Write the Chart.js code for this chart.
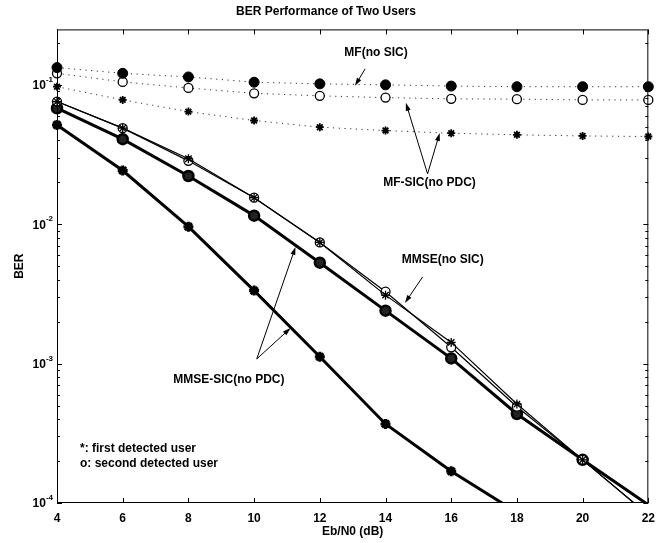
<!DOCTYPE html>
<html>
<head>
<meta charset="utf-8">
<script src="https://cdn.jsdelivr.net/npm/chart.js@4.4.0/dist/chart.umd.min.js"></script>
<style>
    html, body { margin: 0; padding: 0; background: #fff; }
    #wrap { width: 663px; height: 543px; }
</style>
</head>
<body>
<div id="wrap"><canvas id="berChart"></canvas></div>
<script>
"use strict";

// Eb/N0 in dB
const ebN0 = [4, 6, 8, 10, 12, 14, 16, 18, 20, 22];

// matched filter, no SIC (both users overlap -> filled dots)
const mfNoSic = [0.133, 0.121, 0.114, 0.1045, 0.1017, 0.100, 0.098, 0.097, 0.097, 0.097];
// MF-SIC (no PDC)
const mfSicSecond = [0.121, 0.105, 0.095, 0.087, 0.0834, 0.081, 0.0794, 0.079, 0.078, 0.078];
const mfSicFirst = [0.097, 0.078, 0.0643, 0.0555, 0.0497, 0.047, 0.045, 0.0438, 0.043, 0.0426];
// MMSE, no SIC
const mmseFirst = [0.0759, 0.0489, 0.0295, 0.0155, 0.0074, 0.0031, 0.00142, 0.000513, 0.000204, 0.000082];
const mmseSecond = [0.0759, 0.0489, 0.0285, 0.0155, 0.0074, 0.00328, 0.00131, 0.000491, 0.000204, 0.000082];
// MMSE-SIC (no PDC)
const mmseSicSecond = [0.068, 0.0408, 0.0222, 0.01153, 0.0053, 0.0024, 0.00109, 0.000435, 0.000204, 0.000097];
const mmseSicFirst = [0.0516, 0.0243, 0.0096, 0.00334, 0.00112, 0.000369, 0.000169, 0.0000857, null, null];

const xTicks = [4, 6, 8, 10, 12, 14, 16, 18, 20, 22];
const yTickValues = [1e-4, 1e-3, 1e-2, 1e-1];
const yMin = 1e-4;
const yMax = 0.25;

// text notes and arrows, in data coordinates (dB, BER)
const notes = [
    {text: "MF(no SIC)", x: 13.71, y: 0.17, align: "center"},
    {text: "MF-SIC(no PDC)", x: 15.34, y: 0.0198, align: "center"},
    {text: "MMSE(no SIC)", x: 15.74, y: 0.00554, align: "center"},
    {text: "MMSE-SIC(no PDC)", x: 9.23, y: 0.000762, align: "center"},
    {text: "*: first detected user", x: 4.70, y: 0.000244, align: "left"},
    {text: "o: second detected user", x: 4.70, y: 0.00019, align: "left"}
];
const arrows = [
    [13.38, 0.1303, 13.07, 0.0984],
    [15.28, 0.02297, 14.62, 0.0743],
    [15.28, 0.02297, 15.65, 0.0452],
    [15.13, 0.00419, 14.59, 0.00272],
    [10.08, 0.00108, 11.26, 0.00687],
    [10.08, 0.00108, 11.11, 0.0018]
];

function toPoints(arr) {
    return ebN0.map((x, i) => ({x: x, y: arr[i]}));
}

function series(label, arr, opts) {
    let r = opts.radius;
    return Object.assign({
        label: label,
        data: toPoints(arr),
        borderColor: "#000",
        pointBorderColor: "#000",
        fill: false,
        tension: 0,
        spanGaps: false,
        clip: {left: false, top: false, right: false, bottom: 0},
        pointRadius: ctx => (ctx.parsed && ctx.parsed.y < yMin) ? 0 : r,
        pointHoverRadius: r
    }, opts);
}

const dotted = {borderWidth: 1, borderDash: [1.2, 4.5], borderColor: "#333"};

const datasets = [
    series("MF(no SIC)", mfNoSic, Object.assign({}, dotted, {
        pointStyle: "circle", radius: 5, pointBackgroundColor: "#000", pointBorderWidth: 1
    })),
    series("MF-SIC second user", mfSicSecond, Object.assign({}, dotted, {
        pointStyle: "circle", radius: 4.5, pointBackgroundColor: "#fff", pointBorderWidth: 1.3
    })),
    series("MF-SIC first user", mfSicFirst, Object.assign({}, dotted, {
        pointStyle: "star", radius: 4, pointBackgroundColor: "#000", pointBorderWidth: 1.8
    })),
    series("MMSE first user", mmseFirst, {
        borderWidth: 1.2, pointStyle: "star", radius: 4.5, pointBackgroundColor: "#000", pointBorderWidth: 1.3
    }),
    series("MMSE second user", mmseSecond, {
        borderWidth: 1.2, pointStyle: "circle", radius: 4.5, pointBackgroundColor: "#fff", pointBorderWidth: 1.3
    }),
    series("MMSE-SIC second user", mmseSicSecond, {
        borderWidth: 3, pointStyle: "circle", radius: 5, pointBackgroundColor: "#222", pointBorderWidth: 2.5
    }),
    series("MMSE-SIC first user", mmseSicFirst, {
        borderWidth: 3, pointStyle: "star", radius: 5, pointBackgroundColor: "#000", pointBorderWidth: 3
    })
];

const FONT = "'Liberation Sans', Arial, sans-serif";

// box, inward tick marks, 10^n labels and the text notes
const framePlugin = {
    id: "frame",
    afterDatasetsDraw(chart) {
        const c = chart.ctx;
        const a = chart.chartArea;
        const xs = chart.scales.x;
        const ys = chart.scales.y;
        c.save();
        c.strokeStyle = "#000";
        c.lineWidth = 1;
        c.strokeRect(a.left + 0.5, a.top + 0.5, a.right - a.left - 1, a.bottom - a.top - 1);

        c.beginPath();
        xTicks.forEach(v => {
            let px = Math.round(xs.getPixelForValue(v)) + 0.5;
            c.moveTo(px, a.bottom); c.lineTo(px, a.bottom - 5);
            c.moveTo(px, a.top); c.lineTo(px, a.top + 5);
        });
        for (let e = -4; e <= -1; e++) {
            for (let k = 1; k <= 9; k++) {
                let v = k * Math.pow(10, e);
                if (v < yMin || v > yMax) continue;
                let py = Math.round(ys.getPixelForValue(v)) + 0.5;
                let len = k === 1 ? 5 : 3;
                c.moveTo(a.left, py); c.lineTo(a.left + len, py);
                c.moveTo(a.right, py); c.lineTo(a.right - len, py);
            }
        }
        c.stroke();

        // y tick labels with raised exponent
        c.fillStyle = "#000";
        c.textBaseline = "middle";
        yTickValues.forEach(v => {
            let py = ys.getPixelForValue(v);
            let exp = String(Math.round(Math.log10(v)));
            c.font = "bold 8px " + FONT;
            c.textAlign = "right";
            let ew = c.measureText(exp).width;
            c.fillText(exp, a.left - 4, py - 5);
            c.font = "bold 12px " + FONT;
            c.fillText("10", a.left - 4 - ew, py + 1);
        });

        c.font = "bold 12px " + FONT;
        notes.forEach(n => {
            c.textAlign = n.align;
            c.fillText(n.text, xs.getPixelForValue(n.x), ys.getPixelForValue(n.y));
        });

        c.lineWidth = 1;
        arrows.forEach(ar => {
            let x1 = xs.getPixelForValue(ar[0]), y1 = ys.getPixelForValue(ar[1]);
            let x2 = xs.getPixelForValue(ar[2]), y2 = ys.getPixelForValue(ar[3]);
            let ang = Math.atan2(y2 - y1, x2 - x1);
            c.beginPath();
            c.moveTo(x1, y1);
            c.lineTo(x2 - 5 * Math.cos(ang), y2 - 5 * Math.sin(ang));
            c.stroke();
            c.beginPath();
            c.moveTo(x2, y2);
            c.lineTo(x2 - 8 * Math.cos(ang) + 2.5 * Math.sin(ang), y2 - 8 * Math.sin(ang) - 2.5 * Math.cos(ang));
            c.lineTo(x2 - 8 * Math.cos(ang) - 2.5 * Math.sin(ang), y2 - 8 * Math.sin(ang) + 2.5 * Math.cos(ang));
            c.closePath();
            c.fill();
        });
        c.restore();
    }
};

new Chart(document.getElementById("berChart"), {
    type: "line",
    data: {datasets: datasets},
    plugins: [framePlugin],
    options: {
        responsive: true,
        maintainAspectRatio: false,
        animation: false,
        layout: {padding: {top: 0, right: 11, bottom: 0, left: 0}},
        plugins: {
            legend: {display: false},
            tooltip: {enabled: false},
            title: {
                display: true,
                text: "BER Performance of Two Users",
                color: "#000",
                font: {family: FONT, size: 12, weight: "bold"},
                padding: {top: 4, bottom: 11}
            }
        },
        scales: {
            x: {
                type: "linear",
                min: 4,
                max: 22,
                afterBuildTicks: s => { s.ticks = xTicks.map(v => ({value: v})); },
                afterFit: s => { s.height = 40; },
                grid: {display: false, drawTicks: false},
                border: {display: false},
                ticks: {color: "#000", padding: 8, maxRotation: 0, font: {family: FONT, size: 12, weight: "bold"}},
                title: {display: true, text: "Eb/N0 (dB)", color: "#000", padding: {top: 0, bottom: 4}, font: {family: FONT, size: 12, weight: "bold"}}
            },
            y: {
                type: "logarithmic",
                min: yMin,
                max: yMax,
                afterBuildTicks: s => { s.ticks = yTickValues.map(v => ({value: v})); },
                afterFit: s => { s.width = 57; },
                grid: {display: false, drawTicks: false},
                border: {display: false},
                ticks: {display: false},
                title: {display: true, text: "BER", color: "#000", padding: {top: 12, bottom: 0}, font: {family: FONT, size: 12, weight: "bold"}}
            }
        }
    }
});
</script>
</body>
</html>
